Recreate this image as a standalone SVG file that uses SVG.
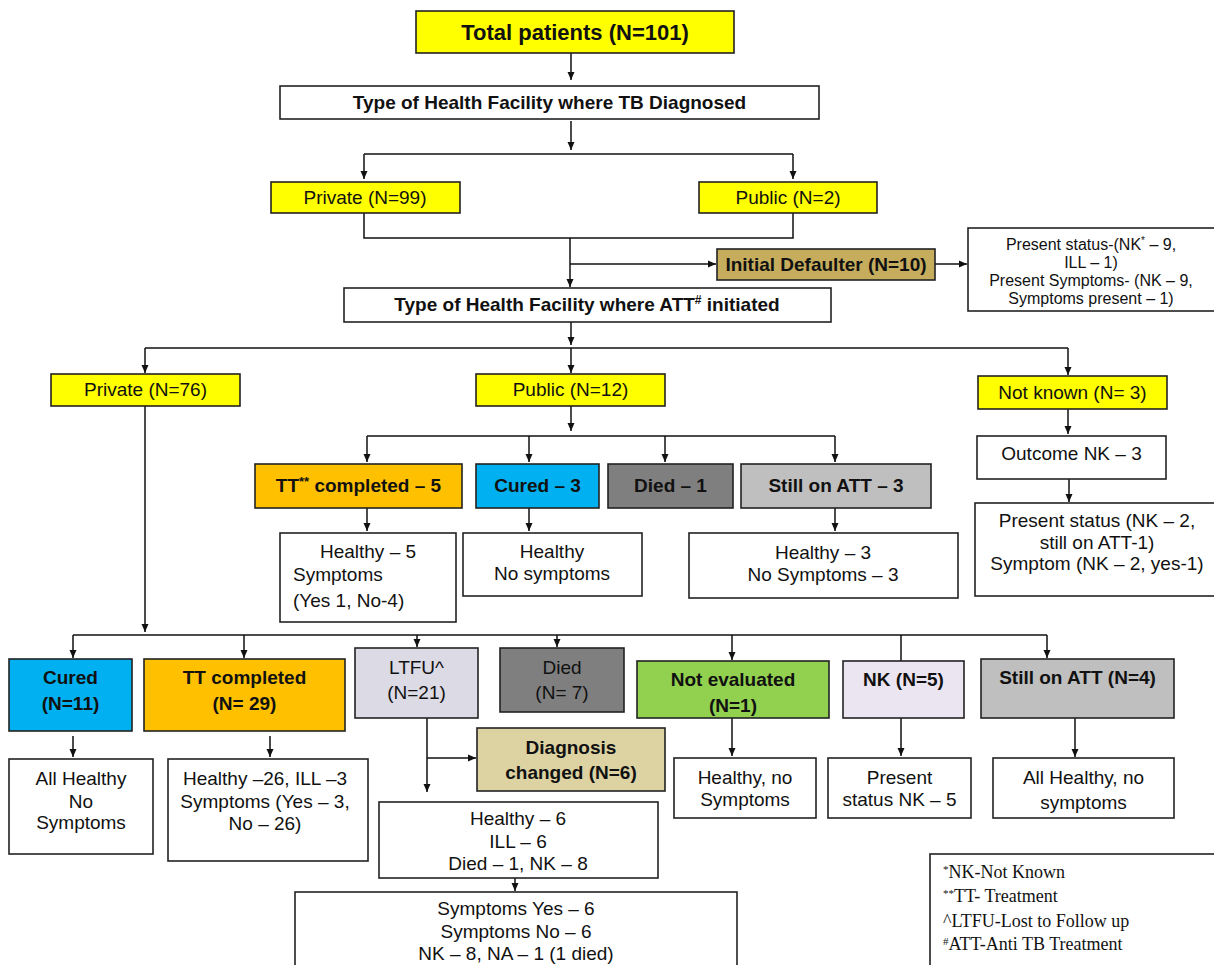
<svg xmlns="http://www.w3.org/2000/svg" width="1214" height="965" viewBox="0 0 1214 965">
<defs>
<marker id="ah" markerWidth="8" markerHeight="8" refX="8" refY="4" orient="auto" markerUnits="userSpaceOnUse">
<path d="M0,0.5 L8,4 L0,7.5 Z" fill="#111"/>
</marker>
<style>
rect.n{stroke:#222;stroke-width:1.6}
.w{fill:#fff}
.y{fill:#ffff00}
.t{font-family:"Liberation Sans",Arial,sans-serif;font-size:19px;fill:#111;text-anchor:middle}
.b{font-weight:bold}
.s{font-size:16px}
.l{text-anchor:start}
.lg{font-family:"Liberation Serif","Times New Roman",serif;font-size:18px;fill:#111}
#conn path{fill:none;stroke:#111;stroke-width:1.5}
</style>
</defs>
<rect x="0" y="0" width="1214" height="965" fill="#fff"/>

<g id="conn">
<path d="M571,53 V80" marker-end="url(#ah)"/>
<path d="M571,121 V150" marker-end="url(#ah)"/>
<path d="M364,154 H793"/>
<path d="M364,154 V179" marker-end="url(#ah)"/>
<path d="M793,154 V179" marker-end="url(#ah)"/>
<path d="M364,213 V238 H793 V213"/>
<path d="M570,238 V287" marker-end="url(#ah)"/>
<path d="M570,264 H716" marker-end="url(#ah)"/>
<path d="M935,264 H967" marker-end="url(#ah)"/>
<path d="M571,322 V345" marker-end="url(#ah)"/>
<path d="M145,348 H1068"/>
<path d="M145,348 V373" marker-end="url(#ah)"/>
<path d="M571,348 V373" marker-end="url(#ah)"/>
<path d="M1068,348 V375" marker-end="url(#ah)"/>
<path d="M571,406 V431" marker-end="url(#ah)"/>
<path d="M367,436 H835"/>
<path d="M367,436 V462" marker-end="url(#ah)"/>
<path d="M529,436 V462" marker-end="url(#ah)"/>
<path d="M665,436 V462" marker-end="url(#ah)"/>
<path d="M835,436 V462" marker-end="url(#ah)"/>
<path d="M367,508 V531" marker-end="url(#ah)"/>
<path d="M529,508 V531" marker-end="url(#ah)"/>
<path d="M835,508 V531" marker-end="url(#ah)"/>
<path d="M1068,409 V434" marker-end="url(#ah)"/>
<path d="M1069,479 V502" marker-end="url(#ah)"/>
<path d="M145,406 V632" marker-end="url(#ah)"/>
<path d="M73,635 H1047"/>
<path d="M73,635 V658" marker-end="url(#ah)"/>
<path d="M244,635 V658" marker-end="url(#ah)"/>
<path d="M417,635 V647" marker-end="url(#ah)"/>
<path d="M557,635 V647" marker-end="url(#ah)"/>
<path d="M732,635 V660" marker-end="url(#ah)"/>
<path d="M901,635 V673" marker-end="url(#ah)"/>
<path d="M1047,635 V658" marker-end="url(#ah)"/>
<path d="M73,736 V757" marker-end="url(#ah)"/>
<path d="M270,736 V757" marker-end="url(#ah)"/>
<path d="M427,718 V792" marker-end="url(#ah)"/>
<path d="M427,758 H476" marker-end="url(#ah)"/>
<path d="M732,718 V756" marker-end="url(#ah)"/>
<path d="M901,718 V756" marker-end="url(#ah)"/>
<path d="M1075,718 V757" marker-end="url(#ah)"/>
<path d="M515,878 V891" marker-end="url(#ah)"/>
</g>

<g id="n-total"><rect class="n y" x="416" y="11" width="318" height="42"/><text class="t b" x="575" y="40" style="font-size:22px">Total patients (N=101)</text></g>
<g id="n-typetb"><rect class="n w" x="280" y="86" width="539" height="33"/><text class="t b" x="549.5" y="109">Type of Health Facility where TB Diagnosed</text></g>
<g id="n-priv99"><rect class="n y" x="271" y="182" width="189" height="31"/><text class="t" x="365" y="204">Private (N=99)</text></g>
<g id="n-pub2"><rect class="n y" x="699" y="182" width="178" height="31"/><text class="t" x="788" y="204">Public (N=2)</text></g>
<g id="n-defaulter"><rect class="n" x="717" y="249" width="218" height="31" fill="#c6ad5e"/><text class="t b" x="826" y="271">Initial Defaulter (N=10)</text></g>
<g id="n-defstatus"><rect class="n w" x="968" y="228" width="250" height="83"/>
<text class="t s" x="1091" y="250">Present status-(NK<tspan font-size="10" dy="-6">*</tspan><tspan dy="6"> – 9,</tspan></text>
<text class="t s" x="1091" y="268">ILL – 1)</text>
<text class="t s" x="1091" y="286">Present Symptoms- (NK – 9,</text>
<text class="t s" x="1091" y="304">Symptoms present – 1)</text></g>
<g id="n-typeatt"><rect class="n w" x="344" y="288" width="487" height="34"/><text class="t b" x="587" y="311">Type of Health Facility where ATT<tspan font-size="12" dy="-7">#</tspan><tspan dy="7"> initiated</tspan></text></g>
<g id="n-priv76"><rect class="n y" x="51" y="374" width="189" height="32"/><text class="t" x="145.5" y="396">Private (N=76)</text></g>
<g id="n-pub12"><rect class="n y" x="476" y="374" width="189" height="32"/><text class="t" x="570.5" y="396">Public (N=12)</text></g>
<g id="n-nk3"><rect class="n y" x="978" y="376" width="189" height="33"/><text class="t" x="1072.5" y="399">Not known (N= 3)</text></g>
<g id="n-tt5"><rect class="n" x="255" y="464" width="207" height="44" fill="#ffc000"/><text class="t b" x="358.5" y="492">TT<tspan font-size="13" dy="-6">**</tspan><tspan dy="6"> completed – 5</tspan></text></g>
<g id="n-cured3"><rect class="n" x="476" y="464" width="123" height="44" fill="#00b0f0"/><text class="t b" x="537.5" y="492">Cured – 3</text></g>
<g id="n-died1"><rect class="n" x="608" y="464" width="125" height="44" fill="#7f7f7f"/><text class="t b" x="670.5" y="492">Died – 1</text></g>
<g id="n-still3"><rect class="n" x="741" y="464" width="190" height="44" fill="#bfbfbf"/><text class="t b" x="836" y="492">Still on ATT – 3</text></g>
<g id="n-h5"><rect class="n w" x="280" y="533" width="176" height="89"/>
<text class="t" x="368" y="558">Healthy – 5</text>
<text class="t l" x="293" y="581">Symptoms</text>
<text class="t l" x="293" y="607">(Yes 1, No-4)</text></g>
<g id="n-hcured3"><rect class="n w" x="463" y="533" width="179" height="63"/>
<text class="t" x="552" y="558">Healthy</text>
<text class="t" x="552" y="580">No symptoms</text></g>
<g id="n-h3"><rect class="n w" x="689" y="533" width="269" height="65"/>
<text class="t" x="823" y="559">Healthy – 3</text>
<text class="t" x="823" y="581">No Symptoms – 3</text></g>
<g id="n-outnk"><rect class="n w" x="977" y="436" width="189" height="43"/><text class="t" x="1071.5" y="460">Outcome NK – 3</text></g>
<g id="n-presnk"><rect class="n w" x="975" y="503" width="243" height="93"/>
<text class="t" x="1097" y="527">Present status (NK – 2,</text>
<text class="t" x="1097" y="549">still on ATT-1)</text>
<text class="t" x="1097" y="570">Symptom (NK – 2, yes-1)</text></g>
<g id="n-cured11"><rect class="n" x="9" y="659" width="123" height="72" fill="#00b0f0"/>
<text class="t b" x="70.5" y="684">Cured</text><text class="t b" x="70.5" y="710">(N=11)</text></g>
<g id="n-tt29"><rect class="n" x="144" y="659" width="201" height="72" fill="#ffc000"/>
<text class="t b" x="244.5" y="684">TT completed</text><text class="t b" x="244.5" y="710">(N= 29)</text></g>
<g id="n-ltfu"><rect class="n" x="355" y="648" width="123" height="70" fill="#dcdae4"/>
<text class="t" x="416.5" y="674">LTFU^</text><text class="t" x="416.5" y="699">(N=21)</text></g>
<g id="n-died7"><rect class="n" x="500" y="648" width="124" height="64" fill="#7f7f7f"/>
<text class="t" x="562" y="674">Died</text><text class="t" x="562" y="699">(N= 7)</text></g>
<g id="n-noteval"><rect class="n" x="637" y="661" width="192" height="57" fill="#92d050"/>
<text class="t b" x="733" y="686">Not evaluated</text><text class="t b" x="733" y="712">(N=1)</text></g>
<g id="n-nk5"><rect class="n" x="843" y="661" width="121" height="57" fill="#ebe5f1"/>
<text class="t b" x="903.5" y="686">NK (N=5)</text></g>
<g id="n-still4"><rect class="n" x="981" y="659" width="193" height="59" fill="#bfbfbf"/>
<text class="t b" x="1077.5" y="684">Still on ATT (N=4)</text></g>
<g id="n-diag"><rect class="n" x="477" y="728" width="188" height="63" fill="#ddd3a2"/>
<text class="t b" x="571" y="754">Diagnosis</text><text class="t b" x="571" y="779">changed (N=6)</text></g>
<g id="n-allh"><rect class="n w" x="9" y="759" width="144" height="95"/>
<text class="t" x="81" y="785">All Healthy</text><text class="t" x="81" y="808">No</text><text class="t" x="81" y="829">Symptoms</text></g>
<g id="n-h26"><rect class="n w" x="168" y="759" width="200" height="102"/>
<text class="t" x="265" y="785">Healthy –26, ILL –3</text><text class="t" x="265" y="808">Symptoms (Yes – 3,</text><text class="t" x="265" y="830">No – 26)</text></g>
<g id="n-h6"><rect class="n w" x="379" y="802" width="279" height="76"/>
<text class="t" x="518" y="825">Healthy – 6</text><text class="t" x="518" y="848">ILL – 6</text><text class="t" x="518" y="870">Died – 1, NK – 8</text></g>
<g id="n-symp"><rect class="n w" x="295" y="892" width="442" height="80"/>
<text class="t" x="516" y="915">Symptoms Yes – 6</text><text class="t" x="516" y="938">Symptoms No – 6</text><text class="t" x="516" y="960">NK – 8, NA – 1 (1 died)</text></g>
<g id="n-hne"><rect class="n w" x="674" y="758" width="142" height="60"/>
<text class="t" x="745" y="784">Healthy, no</text><text class="t" x="745" y="806">Symptoms</text></g>
<g id="n-psnk5"><rect class="n w" x="828" y="758" width="143" height="60"/>
<text class="t" x="899.5" y="784">Present</text><text class="t" x="899.5" y="806">status NK – 5</text></g>
<g id="n-allh4"><rect class="n w" x="993" y="758" width="181" height="60"/>
<text class="t" x="1083.5" y="784">All Healthy, no</text><text class="t" x="1083.5" y="809">symptoms</text></g>
<g id="legend"><rect class="n w" x="930" y="854" width="290" height="120"/>
<text class="lg" x="943" y="878"><tspan font-size="11" dy="-5">*</tspan><tspan dy="5">NK-Not Known</tspan></text>
<text class="lg" x="943" y="902"><tspan font-size="11" dy="-5">**</tspan><tspan dy="5">TT- Treatment</tspan></text>
<text class="lg" x="943" y="927">^LTFU-Lost to Follow up</text>
<text class="lg" x="943" y="950"><tspan font-size="11" dy="-5">#</tspan><tspan dy="5">ATT-Anti TB Treatment</tspan></text></g>
</svg>
